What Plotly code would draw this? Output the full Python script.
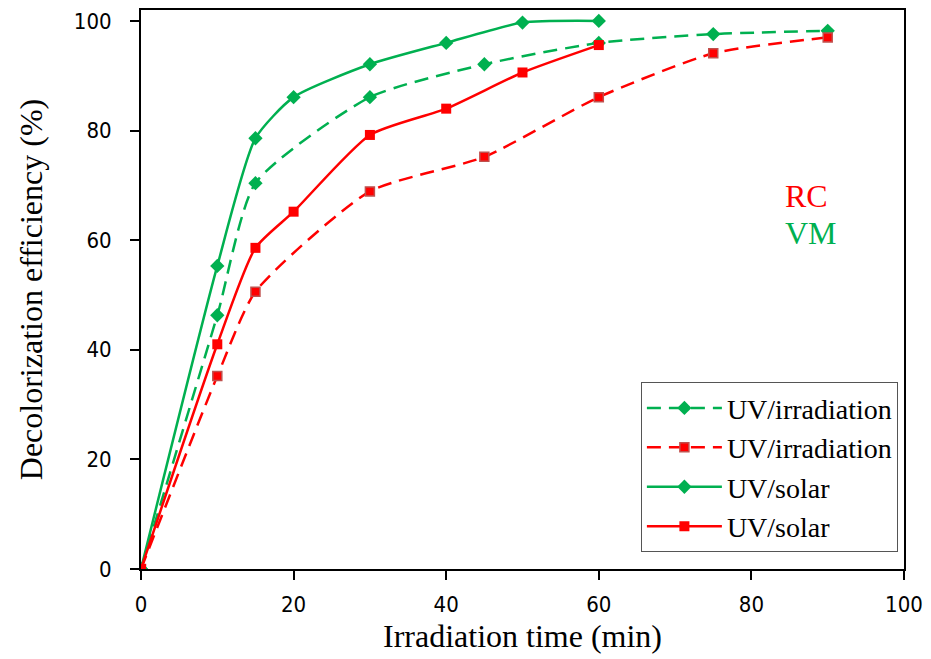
import plotly.graph_objects as go

x_vm_solar = [0, 10, 15, 20, 30, 40, 50, 60]
y_vm_solar = [0, 55.3, 78.6, 86.1, 92.1, 96.0, 99.7, 100.0]

x_vm_irr = [0, 10, 15, 30, 45, 60, 75, 90]
y_vm_irr = [0, 46.3, 70.4, 86.1, 92.1, 96.0, 97.6, 98.2]

x_rc_solar = [0, 10, 15, 20, 30, 40, 50, 60]
y_rc_solar = [0, 41.0, 58.6, 65.2, 79.2, 84.0, 90.6, 95.6]

x_rc_irr = [0, 10, 15, 30, 45, 60, 75, 90]
y_rc_irr = [0, 35.2, 50.6, 68.9, 75.2, 86.1, 94.1, 97.0]

GREEN = "#00B050"
RED = "#FF0000"
DASH = "14px,8px"

fig = go.Figure()
fig.add_trace(go.Scatter(x=x_vm_irr, y=y_vm_irr, name="UV/irradiation", mode="lines+markers",
                         line=dict(color=GREEN, width=2.5, dash=DASH, shape="spline", smoothing=0.6),
                         marker=dict(symbol="diamond", size=11, color=GREEN)))
fig.add_trace(go.Scatter(x=x_rc_irr, y=y_rc_irr, name="UV/irradiation", mode="lines+markers",
                         line=dict(color=RED, width=2.5, dash=DASH, shape="spline", smoothing=0.6),
                         marker=dict(symbol="square", size=9, color=RED, line=dict(color="#C0504D", width=1.5))))
fig.add_trace(go.Scatter(x=x_vm_solar, y=y_vm_solar, name="UV/solar", mode="lines+markers",
                         line=dict(color=GREEN, width=2.5, shape="spline", smoothing=0.6),
                         marker=dict(symbol="diamond", size=11, color=GREEN)))
fig.add_trace(go.Scatter(x=x_rc_solar, y=y_rc_solar, name="UV/solar", mode="lines+markers",
                         line=dict(color=RED, width=2.5, shape="spline", smoothing=0.6),
                         marker=dict(symbol="square", size=10, color=RED)))

tickfont = dict(family="Liberation Sans Narrow, DejaVu Sans Condensed, Roboto Condensed, Noto Sans, sans-serif",
                size=22, color="black")
serif = "Liberation Serif, Times New Roman, serif"

fig.update_layout(
    width=931, height=659,
    margin=dict(l=141, r=25, t=8, b=90),
    paper_bgcolor="white", plot_bgcolor="white",
    showlegend=True,
    legend=dict(x=0.992, y=0.03, xanchor="right", yanchor="bottom",
                bordercolor="#555555", borderwidth=1, bgcolor="white",
                font=dict(family=serif, size=28, color="black"),
                tracegroupgap=0, itemwidth=75),
    xaxis=dict(range=[0, 100], tickvals=[0, 20, 40, 60, 80, 100], ticks="outside", ticklen=9,
               tickwidth=1.5, tickcolor="black", showline=True, linecolor="black", linewidth=2,
               mirror=True, showgrid=False, zeroline=False, tickfont=tickfont, ticklabelstandoff=6,
               title=dict(text="Irradiation time (min)", font=dict(family=serif, size=32, color="black"), standoff=8)),
    yaxis=dict(range=[0, 102], tickvals=[0, 20, 40, 60, 80, 100], ticks="outside", ticklen=9,
               tickwidth=1.5, tickcolor="black", showline=True, linecolor="black", linewidth=2,
               mirror=True, showgrid=False, zeroline=False, tickfont=tickfont, ticklabelstandoff=14,
               title=dict(text="Decolorization efficiency (%)", font=dict(family=serif, size=32, color="black"), standoff=22)),
    annotations=[
        dict(x=0.842, y=0.667, xref="paper", yref="paper", text="RC", showarrow=False,
             font=dict(family=serif, size=32, color=RED), xanchor="left", yanchor="middle"),
        dict(x=0.842, y=0.601, xref="paper", yref="paper", text="VM", showarrow=False,
             font=dict(family=serif, size=32, color=GREEN), xanchor="left", yanchor="middle"),
    ],
)

fig.write_html("out.html")
